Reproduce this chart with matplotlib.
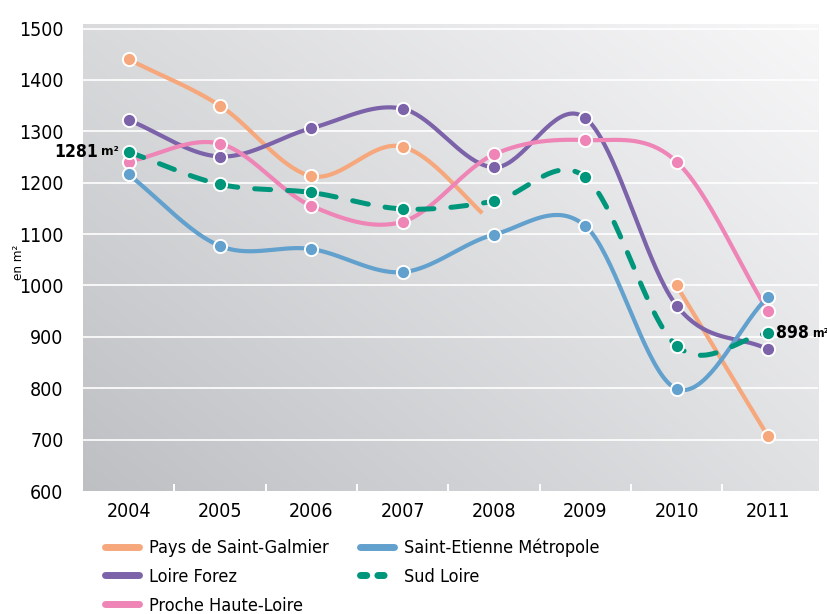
import numpy as np
import matplotlib
matplotlib.use("Agg")
import matplotlib.pyplot as plt
from matplotlib.lines import Line2D

years = [2004, 2005, 2006, 2007, 2008, 2009, 2010, 2011]
nan = np.nan
# Pays de Saint-Galmier: 2008 value is unmarked (line fades out before it), 2009 missing
galmier = [1440, 1350, 1213, 1270, 1120, nan, 1000, 707]
galmier_marked = [True, True, True, True, False, False, True, True]
loire_forez = [1322, 1251, 1306, 1344, 1230, 1326, 961, 876]
haute_loire = [1241, 1276, 1155, 1124, 1255, 1283, 1241, 950]
st_etienne = [1216, 1077, 1071, 1026, 1099, 1116, 799, 978]
sud_loire = [1260, 1197, 1181, 1149, 1164, 1211, 883, 907]

names = ["Pays de Saint-Galmier", "Loire Forez", "Proche Haute-Loire",
         "Saint-Etienne Métropole", "Sud Loire"]
colors = ["#f6a77b", "#7b62a9", "#ee85b6", "#62a0cd", "#00967b"]
yticks = [600, 700, 800, 900, 1000, 1100, 1200, 1300, 1400, 1500]
start_value = "1281"
end_value = "898"
unit = "m²"

plt.rcParams["font.family"] = ["DejaVu Sans"]
plt.rcParams["font.stretch"] = "condensed"


def catmull(xs, ys, n=40):
    xs = np.asarray(xs, float)
    ys = np.asarray(ys, float)
    if len(xs) < 2:
        return xs, ys
    m = np.zeros_like(ys)
    for i in range(len(ys)):
        if i == 0:
            m[i] = (ys[1] - ys[0]) / (xs[1] - xs[0])
        elif i == len(ys) - 1:
            m[i] = (ys[-1] - ys[-2]) / (xs[-1] - xs[-2])
        else:
            m[i] = (ys[i + 1] - ys[i - 1]) / (xs[i + 1] - xs[i - 1])
    outx, outy = [], []
    for i in range(len(xs) - 1):
        h = xs[i + 1] - xs[i]
        t = np.linspace(0, 1, n, endpoint=(i == len(xs) - 2))
        h00 = 2 * t**3 - 3 * t**2 + 1
        h10 = t**3 - 2 * t**2 + t
        h01 = -2 * t**3 + 3 * t**2
        h11 = t**3 - t**2
        outx.append(xs[i] + t * h)
        outy.append(h00 * ys[i] + h10 * h * m[i] + h01 * ys[i + 1] + h11 * h * m[i + 1])
    return np.concatenate(outx), np.concatenate(outy)


def runs(xs, ys):
    out, cur = [], []
    for x, y in zip(xs, ys):
        if not np.isnan(y):
            cur.append((x, y))
        else:
            if cur:
                out.append(cur)
            cur = []
    if cur:
        out.append(cur)
    return out


fig = plt.figure(figsize=(8.28, 6.14), dpi=100)
ax = fig.add_axes([0.1002, 0.2003, 0.8878, 0.7607])

# gradient background (bilinear between corner colours)
gx, gy = np.meshgrid(np.linspace(0, 1, 300), np.linspace(0, 1, 300))
bl = np.array([0.745, 0.750, 0.765])
br = np.array([0.878, 0.882, 0.890])
tl = np.array([0.851, 0.855, 0.863])
tr = np.array([0.969, 0.969, 0.973])
gx3, gy3 = gx[..., None], gy[..., None]
img = (bl * (1 - gx3) * (1 - gy3) + br * gx3 * (1 - gy3)
       + tl * (1 - gx3) * gy3 + tr * gx3 * gy3)
ax.imshow(img, extent=[0, 1, 0, 1], transform=ax.transAxes, origin="lower",
          aspect="auto", zorder=0)

ax.set_xlim(2003.5, 2011.55)
ax.set_ylim(600, 1509)
for v in yticks[1:]:
    ax.axhline(v, color="white", lw=1.2, zorder=1)

series = [galmier, loire_forez, haute_loire, st_etienne, sud_loire]
LW = 3.0
for k, (vals, col) in enumerate(zip(series, colors)):
    dashed = (k == 4)
    for seg in runs(years, vals):
        sx, sy = zip(*seg)
        cx, cy = catmull(sx, sy)
        if k == 0 and max(sx) == 2008:
            keep = cx <= 2007.88
            cx, cy = cx[keep], cy[keep]
        if dashed:
            ax.plot(cx, cy, color=col, lw=LW + 0.6, zorder=3, dashes=(3.2, 3.4),
                    dash_capstyle="round")
        else:
            ax.plot(cx, cy, color=col, lw=LW, zorder=3, solid_capstyle="butt")
    mk = galmier_marked if k == 0 else [True] * len(vals)
    mx = [x for x, v, m in zip(years, vals, mk) if m and not np.isnan(v)]
    my = [v for x, v, m in zip(years, vals, mk) if m and not np.isnan(v)]
    ax.plot(mx, my, "o", ms=9.5, mfc=col, mec="white", mew=1.4, zorder=4)

for s in ax.spines.values():
    s.set_visible(False)
ax.set_yticks(yticks)
ax.set_yticklabels([str(v) for v in yticks], fontsize=14)
ax.set_xticks(years)
ax.set_xticklabels([str(y) for y in years], fontsize=14)
ax.set_xticks([y + 0.5 for y in years[:-1]], minor=True)
ax.tick_params(axis="y", length=0, pad=14)
ax.tick_params(axis="x", which="major", length=0, pad=8)
ax.tick_params(axis="x", which="minor", direction="in", length=5, width=1.4,
               color="white")
ax.grid(False)
fig.text(0.022, 0.573, "en m²", rotation=90, fontsize=9.5, ha="center", va="center")

# annotations: value in bold + smaller unit
fig.canvas.draw()
r = fig.canvas.get_renderer()
u1 = ax.annotate(unit, xy=(years[0], sud_loire[0]), xytext=(-7, 0),
                 textcoords="offset points", ha="right", va="center",
                 fontsize=9.5, fontweight="bold", zorder=5)
w1 = u1.get_window_extent(r).width * 72 / fig.dpi
ax.annotate(start_value, xy=(years[0], sud_loire[0]), xytext=(-7 - w1 - 2.5, 0),
            textcoords="offset points", ha="right", va="center", fontsize=12.5,
            fontweight="bold", zorder=5)
n2 = ax.annotate(end_value, xy=(years[-1], sud_loire[-1]), xytext=(6, 0),
                 textcoords="offset points", ha="left", va="center", fontsize=12.5,
                 fontweight="bold", zorder=5, annotation_clip=False)
w2 = n2.get_window_extent(r).width * 72 / fig.dpi
ax.annotate(unit, xy=(years[-1], sud_loire[-1]), xytext=(6 + w2 + 2, 0),
            textcoords="offset points", ha="left", va="center", fontsize=9,
            fontweight="bold", zorder=5, annotation_clip=False)

handles = []
for k, (n, c) in enumerate(zip(names, colors)):
    if k == 4:
        h = Line2D([], [], color=c, lw=5, dashes=(0.9, 1.6), dash_capstyle="round")
    else:
        h = Line2D([], [], color=c, lw=5, solid_capstyle="round")
    handles.append(h)
leg = fig.legend(handles, names, ncol=2,
                 loc="upper left", bbox_to_anchor=(0.127, 0.123), frameon=False,
                 fontsize=13, handlelength=1.9, handletextpad=0.55,
                 columnspacing=1.7, labelspacing=0.6, borderaxespad=0,
                 borderpad=0)

fig.savefig("out.png", dpi=100)
